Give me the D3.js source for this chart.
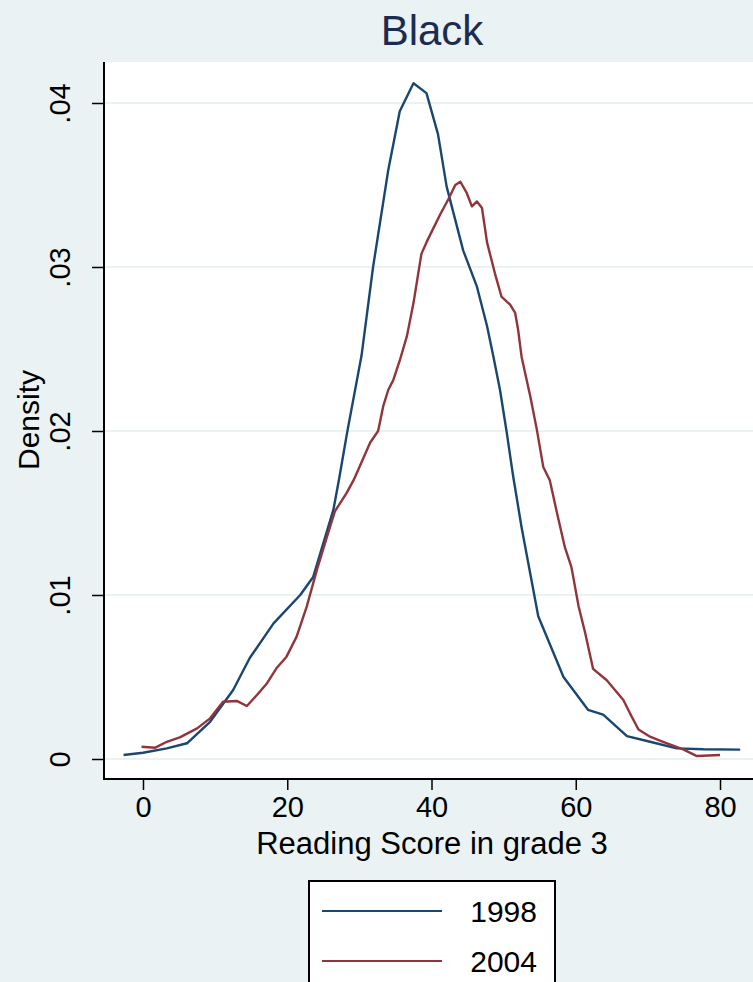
<!DOCTYPE html>
<html>
<head>
<meta charset="utf-8">
<script src="https://cdn.jsdelivr.net/npm/d3@7"></script>
<style>
  body { margin: 0; background: #eaf2f3; }
  svg { display: block; font-family: "Liberation Sans", Arial, sans-serif; }
</style>
</head>
<body>
<div id="chart"></div>
<script>
// reading score / density pairs
const score1998 = [-2.7, 0.0, 3.3, 6.1, 9.3, 12.5, 14.8, 18.1, 21.8, 23.6, 26.4, 27.2, 28.3, 30.3, 31.9, 34.0, 35.6, 37.5, 39.3, 40.9, 42.1, 44.4, 46.3, 47.7, 48.6, 49.5, 50.4, 51.3, 52.5, 54.8, 58.3, 61.7, 63.8, 67.1, 70.3, 74.0, 77.7, 82.8];
const density1998 = [0.00024, 0.00038, 0.00065, 0.00096, 0.00227, 0.00421, 0.00616, 0.00827, 0.0100, 0.0111, 0.0152, 0.0171, 0.0199, 0.0246, 0.0300, 0.0359, 0.0395, 0.0412, 0.0406, 0.0381, 0.0349, 0.0310, 0.0288, 0.0264, 0.0245, 0.0225, 0.0200, 0.0173, 0.0141, 0.0087, 0.0050, 0.0030, 0.0027, 0.0014, 0.00105, 0.00065, 0.00059, 0.00057];

const score2004 = [-0.2, 1.7, 3.3, 5.1, 7.5, 9.3, 11.1, 13.0, 14.4, 15.8, 17.2, 18.5, 19.9, 21.3, 22.7, 24.1, 25.5, 26.6, 28.2, 29.2, 30.3, 31.5, 32.6, 33.3, 34.0, 34.7, 35.6, 36.6, 37.5, 38.6, 39.3, 40.3, 41.2, 42.3, 43.3, 44.0, 44.9, 45.6, 46.3, 47.0, 47.7, 48.8, 49.7, 50.9, 51.6, 52.0, 52.5, 53.7, 54.6, 55.5, 56.4, 57.4, 58.5, 59.4, 60.4, 61.3, 62.4, 64.3, 66.6, 67.5, 68.7, 70.3, 72.1, 74.9, 76.8, 80.0];
const density2004 = [0.00075, 0.00069, 0.00105, 0.00132, 0.00187, 0.00248, 0.00349, 0.00354, 0.00323, 0.0039, 0.00462, 0.00553, 0.00624, 0.00746, 0.00929, 0.01152, 0.01355, 0.0151, 0.0162, 0.0170, 0.0181, 0.0193, 0.0200, 0.0215, 0.0225, 0.0231, 0.0243, 0.0258, 0.0278, 0.0308, 0.0315, 0.0324, 0.0332, 0.0341, 0.0350, 0.0352, 0.0345, 0.0337, 0.0340, 0.0336, 0.0315, 0.0296, 0.0282, 0.0277, 0.0272, 0.0262, 0.0245, 0.0221, 0.0201, 0.0178, 0.0170, 0.0150, 0.0129, 0.0117, 0.0093, 0.0077, 0.0055, 0.0048, 0.0036, 0.0028, 0.0018, 0.00136, 0.00105, 0.00059, 0.00018, 0.00024];

const xTicks = [0, 20, 40, 60, 80];
const yTicks = [0, 0.01, 0.02, 0.03, 0.04];
const yTickLabels = ['0', '.01', '.02', '.03', '.04'];
const seriesNames = ['1998', '2004'];

let width = 753,
    height = 982;

let plot = { left: 104, right: 760, top: 62, bottom: 779 };

let colors = ['#1a476f', '#90353b'];

let x = d3.scaleLinear().domain([0, 80]).range([143, 720]);
let y = d3.scaleLinear().domain([0, 0.04]).range([759, 103]);

let svg = d3.select('#chart').append('svg')
  .attr('width', width)
  .attr('height', height);

svg.append('rect')
  .attr('width', width).attr('height', height)
  .style('fill', '#eaf2f3');

svg.append('rect')
  .attr('x', plot.left).attr('y', plot.top)
  .attr('width', plot.right - plot.left)
  .attr('height', plot.bottom - plot.top)
  .style('fill', '#fff');

// grid lines
svg.append('g').selectAll('line')
  .data(yTicks)
  .enter().append('line')
    .attr('x1', plot.left).attr('x2', plot.right)
    .attr('y1', d => y(d)).attr('y2', d => y(d))
    .style('stroke', '#e4eef0')
    .style('stroke-width', 1.5);

// title
svg.append('text')
  .attr('x', 432).attr('y', 45)
  .attr('text-anchor', 'middle')
  .style('font-size', '42px')
  .style('fill', '#1c2b50')
  .text('Black');

// curves
let line = d3.line()
  .x(d => x(d[0]))
  .y(d => y(d[1]));

let series = [
  d3.zip(score1998, density1998),
  d3.zip(score2004, density2004)
];

svg.append('g').selectAll('path')
  .data(series)
  .enter().append('path')
    .attr('d', line)
    .style('fill', 'none')
    .style('stroke', (d, i) => colors[i])
    .style('stroke-width', 2.4)
    .style('stroke-linejoin', 'round');

// x axis
let xAxis = svg.append('g')
  .attr('transform', `translate(0,${plot.bottom})`)
  .call(d3.axisBottom(x).tickValues(xTicks).tickSize(11).tickPadding(6).tickSizeOuter(0));

xAxis.select('.domain').remove();
xAxis.append('line')
  .attr('x1', plot.left - 1).attr('x2', plot.right)
  .style('stroke', '#000').style('stroke-width', 2);
xAxis.selectAll('.tick line').style('stroke', '#000').style('stroke-width', 1.5);
xAxis.selectAll('.tick text')
  .style('font-size', '29px')
  .style('font-family', '"Liberation Sans", Arial, sans-serif')
  .style('fill', '#000');

svg.append('text')
  .attr('x', 432).attr('y', 854)
  .attr('text-anchor', 'middle')
  .style('font-size', '31px')
  .text('Reading Score in grade 3');

// y axis
let yAxis = svg.append('g')
  .attr('transform', `translate(${plot.left},0)`)
  .call(d3.axisLeft(y).tickValues(yTicks).tickFormat((d, i) => yTickLabels[i]).tickSize(12).tickSizeOuter(0));

yAxis.select('.domain').remove();
yAxis.append('line')
  .attr('y1', plot.top).attr('y2', plot.bottom + 1)
  .style('stroke', '#000').style('stroke-width', 2);
yAxis.selectAll('.tick line').style('stroke', '#000').style('stroke-width', 1.5);
yAxis.selectAll('.tick text')
  .attr('x', null).attr('dy', null)
  .attr('transform', 'translate(-44,0) rotate(-90)')
  .attr('text-anchor', 'middle')
  .attr('dy', '0.35em')
  .style('font-size', '29px')
  .style('font-family', '"Liberation Sans", Arial, sans-serif')
  .style('fill', '#000');

svg.append('text')
  .attr('transform', 'translate(39,420) rotate(-90)')
  .attr('text-anchor', 'middle')
  .style('font-size', '30px')
  .text('Density');

// legend
let legend = svg.append('g');

legend.append('rect')
  .attr('x', 309).attr('y', 881)
  .attr('width', 246).attr('height', 120)
  .style('fill', '#fff')
  .style('stroke', '#000')
  .style('stroke-width', 2);

let item = legend.selectAll('.item')
  .data(seriesNames)
  .enter().append('g')
    .attr('class', 'item')
    .attr('transform', (d, i) => `translate(0,${911 + i * 50})`);

item.append('line')
  .attr('x1', 322).attr('x2', 442)
  .style('stroke', (d, i) => colors[i])
  .style('stroke-width', 2);

item.append('text')
  .attr('x', 537).attr('dy', '0.36em')
  .attr('text-anchor', 'end')
  .style('font-size', '30px')
  .text(d => d);
</script>
</body>
</html>
